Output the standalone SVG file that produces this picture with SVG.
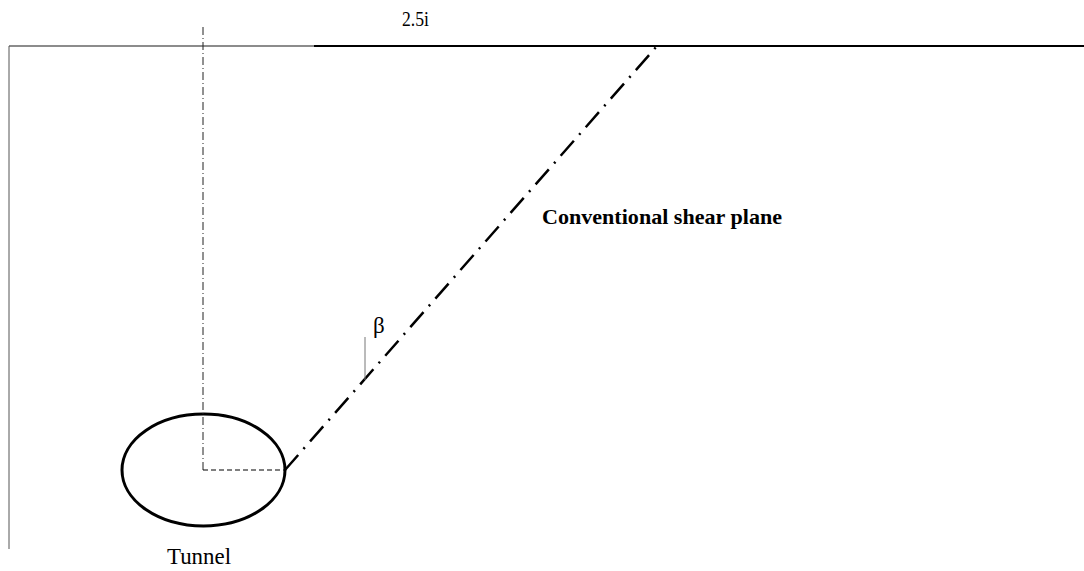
<svg xmlns="http://www.w3.org/2000/svg" width="1084" height="571" viewBox="0 0 1084 571">
<style>
text{font-family:"Liberation Serif","Times New Roman",serif;fill:#000}
.thin{stroke:#555;stroke-width:1;fill:none}
</style>
<rect width="1084" height="571" fill="#fff"/>
<g id="ground">
<line x1="9" y1="46" x2="314" y2="46" stroke="#666" stroke-width="1.5"/>
<line x1="314" y1="46" x2="1084" y2="46" stroke="#000" stroke-width="2"/>
<line x1="9" y1="46" x2="9" y2="549" class="thin"/>
</g>
<g id="tunnel">
<ellipse cx="203.5" cy="470" rx="81.5" ry="56" fill="none" stroke="#000" stroke-width="3"/>
<text x="167" y="564" font-size="23" textLength="64" lengthAdjust="spacingAndGlyphs">Tunnel</text>
</g>
<g id="connectors">
<line x1="203" y1="27" x2="203" y2="470" stroke="#222" stroke-width="1" stroke-dasharray="8 3 1 3"/>
<line x1="203" y1="470" x2="285" y2="470" stroke="#000" stroke-width="1.2" stroke-dasharray="5 3"/>
<line x1="285" y1="470" x2="657" y2="46" stroke="#000" stroke-width="2.5" stroke-dasharray="20 8 2 8"/>
<line x1="365" y1="337" x2="365" y2="380" stroke="#777" stroke-width="1"/>
</g>
<g id="labels">
<text x="402" y="26" font-size="22" textLength="27" lengthAdjust="spacingAndGlyphs">2.5i</text>
<text x="373" y="333" font-size="23">β</text>
<text x="542" y="224" font-size="22" font-weight="bold" textLength="240" lengthAdjust="spacingAndGlyphs">Conventional shear plane</text>
</g>
</svg>
